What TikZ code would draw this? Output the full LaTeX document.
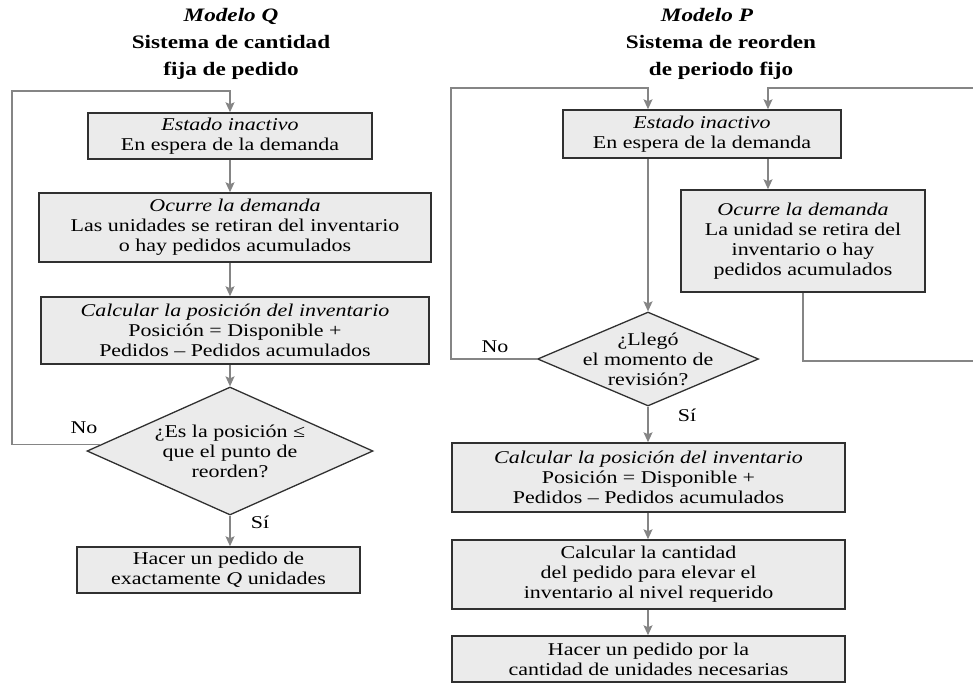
\documentclass[tikz,border=0pt]{standalone}
\usepackage{fontspec}
\setmainfont{Liberation Serif}[FakeStretch=1.22]
\usepackage{tikz}
\usetikzlibrary{shapes.geometric,arrows.meta}

\definecolor{relleno}{HTML}{EBEBEB}
\definecolor{borde}{HTML}{303030}
\definecolor{conector}{HTML}{858585}

\begin{document}
\begin{tikzpicture}[x=1pt, y=-1pt,
    every node/.style = {font=\fontsize{18}{20}\selectfont, align=center},
    caja/.style = {shape=rectangle, draw=borde, line width=1.5pt, fill=relleno, inner sep=0pt},
    rombo/.style = {shape=diamond, draw=borde, line width=1.3pt, fill=relleno, inner sep=0pt},
    titulo/.style = {font=\fontsize{19}{27}\selectfont\bfseries},
    linea/.style = {draw=conector, color=conector, line width=1.4pt},
    flecha/.style = {linea, -{Stealth[length=10pt, width=9pt, inset=2pt]}}]
    \useasboundingbox (0,0) rectangle (973,697);

    % Modelo Q
    \node[titulo] (tq) at (231,44) {\textit{Modelo Q}\\Sistema de cantidad\\fija de pedido};
    \node[caja, minimum width=284pt, minimum height=46pt] (q1) at (230,136)
      {\textit{Estado inactivo}\\En espera de la demanda};
    \node[caja, minimum width=392pt, minimum height=69pt] (q2) at (235,227.5)
      {\textit{Ocurre la demanda}\\Las unidades se retiran del inventario\\o hay pedidos acumulados};
    \node[caja, minimum width=388pt, minimum height=67pt] (q3) at (235,330.5)
      {\textit{Calcular la posición del inventario}\\Posición = Disponible +\\Pedidos – Pedidos acumulados};
    \node[rombo, aspect=2.23, minimum width=286pt, minimum height=128pt] (qd) at (230,451)
      {¿Es la posición ≤\\que el punto de\\reorden?};
    \node[caja, minimum width=283pt, minimum height=46pt] (q4) at (218.5,570)
      {Hacer un pedido de\\exactamente \textit{Q} unidades};
    \node (noq) at (84,428) {No};
    \node (siq) at (260,522) {Sí};
    \coordinate (qesq) at (12,91);

    \draw[flecha] (q1.south) -- (q1.south |- q2.north);
    \draw[flecha] (q1.south |- q2.south) -- (q1.south |- q3.north);
    \draw[flecha] (q1.south |- q3.south) -- (qd.north);
    \draw[flecha] (qd.south) -- (qd.south |- q4.north);
    \draw[flecha] (qd.177) -| (qesq) -| (q1.north);

    % Modelo P
    \node[titulo] (tp) at (721,44) {\textit{Modelo P}\hspace*{28pt}\\Sistema de reorden\\de periodo fijo};
    \node[caja, minimum width=278pt, minimum height=48pt] (p1) at (702,134)
      {\textit{Estado inactivo}\\En espera de la demanda};
    \node[caja, minimum width=244pt, minimum height=102pt] (p2) at (803,241)
      {\textit{Ocurre la demanda}\\La unidad se retira del\\inventario o hay\\pedidos acumulados};
    \node[rombo, aspect=2.35, inner sep=-10pt, minimum width=221pt, minimum height=94pt] (pd) at (648,359)
      {¿Llegó\\el momento de\\revisión?};
    \node[caja, minimum width=393pt, minimum height=69pt] (p3) at (648.5,477.5)
      {\textit{Calcular la posición del inventario}\\Posición = Disponible +\\Pedidos – Pedidos acumulados};
    \node[caja, minimum width=393pt, minimum height=69pt] (p4) at (648.5,574.5)
      {Calcular la cantidad\\del pedido para elevar el\\inventario al nivel requerido};
    \node[caja, minimum width=393pt, minimum height=46pt] (p5) at (648.5,659)
      {Hacer un pedido por la\\cantidad de unidades necesarias};
    \node (nop) at (495,347) {No};
    \node (sip) at (687,415) {Sí};
    \coordinate (pesq) at (451,88);
    \coordinate (pder) at (768,88);
    \coordinate (pfuera) at (990,361);

    \draw[flecha] (pd.west) -| (pesq) -| (pd.north |- p1.north);
    \draw[flecha] (pd.north |- p1.south) -- (pd.north);
    \draw[flecha] (pder |- p1.south) -- (pder |- p2.north);
    \draw[flecha] (p2.south) |- (pfuera) |- (pder) -- (pder |- p1.north);
    \draw[flecha] (pd.south) -- (pd.south |- p3.north);
    \draw[flecha] (pd.south |- p3.south) -- (pd.south |- p4.north);
    \draw[flecha] (pd.south |- p4.south) -- (pd.south |- p5.north);
\end{tikzpicture}
\end{document}
